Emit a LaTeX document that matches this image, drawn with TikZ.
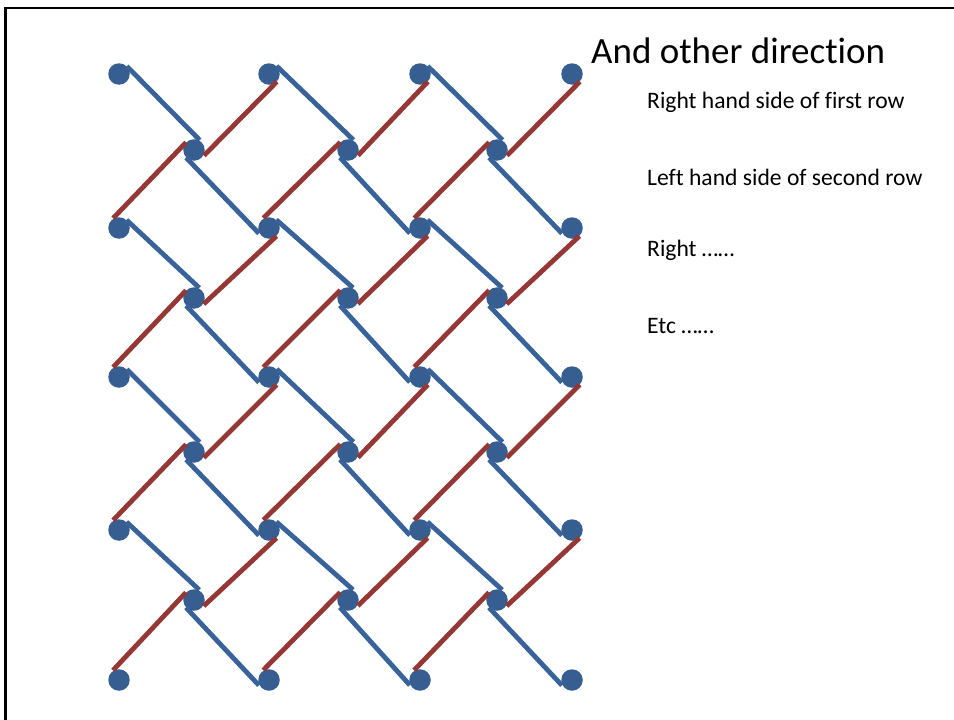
\documentclass[tikz,border=0pt]{standalone}
\usepackage{fontspec}
\setmainfont{Carlito}[Ligatures={NoCommon,NoContextual}]
\usetikzlibrary{calc}
\definecolor{dotblue}{HTML}{375E91}
\definecolor{lineblue}{HTML}{38629A}
\definecolor{linered}{HTML}{953735}
\tikzset{
  dot/.style={circle,fill=dotblue,draw=none,inner sep=0pt,minimum size=21.5pt},
  bluelink/.style={draw=lineblue,line width=4.8pt,shorten >=3pt},
  redlink/.style={draw=linered,line width=4.8pt,shorten >=3pt},
  titletext/.style={anchor=base west,inner sep=0pt,font=\fontsize{37}{44}\selectfont},
  itemtext/.style={anchor=base west,inner sep=0pt,font=\fontsize{23.6}{28}\selectfont},
}
\begin{document}
\begin{tikzpicture}[x=1pt,y=-1pt]
\useasboundingbox (0,0) rectangle (954,720);
\fill[white] (0,0) rectangle (954,720);
\draw[line width=2.5pt] (5.5,720) coordinate (bl) -- (5.5,8) coordinate (tl) -- (954,8) coordinate (tr);
% main dots
\foreach \r/\y in {0/74,1/228,2/377,3/530,4/680}{
  \foreach \c/\x in {0/119,1/269,2/420,3/572}{
    \node[dot] (m\r\c) at (\x,\y) {};
  }
}
% offset dots
\foreach \k/\y in {0/150,1/298,2/452,3/600}{
  \foreach \c/\x in {0/194,1/348,2/497}{
    \node[dot] (o\k\c) at (\x,\y) {};
  }
}
% blue links
\foreach \k in {0,1,2,3}{
  \foreach \c in {0,1,2}{
    \pgfmathtruncatemacro{\rn}{\k+1}
    \pgfmathtruncatemacro{\cn}{\c+1}
    \draw[bluelink] ($(m\k\c)!11pt!90:(o\k\c)$) -- ($(o\k\c)!11pt!-90:(m\k\c)$);
    \draw[bluelink] ($(o\k\c)!11pt!-90:(m\rn\cn)$) -- ($(m\rn\cn)!11pt!90:(o\k\c)$);
  }
}
% red links
\foreach \k in {0,1,2,3}{
  \foreach \c in {0,1,2}{
    \pgfmathtruncatemacro{\rn}{\k+1}
    \pgfmathtruncatemacro{\cn}{\c+1}
    \draw[redlink] ($(m\k\cn)!11pt!90:(o\k\c)$) -- ($(o\k\c)!11pt!-90:(m\k\cn)$);
    \draw[redlink] ($(o\k\c)!11pt!-90:(m\rn\c)$) -- ($(m\rn\c)!11pt!90:(o\k\c)$);
  }
}
% texts
\node[titletext] (title) at (591,63) {And other direction};
\node[itemtext] (t1) at (647,108) {Right hand side of first row};
\node[itemtext] (t2) at (647,185) {Left hand side of second row};
\node[itemtext] (t3) at (647,256) {Right ……};
\node[itemtext] (t4) at (647,333) {Etc ……};
\end{tikzpicture}
\end{document}
